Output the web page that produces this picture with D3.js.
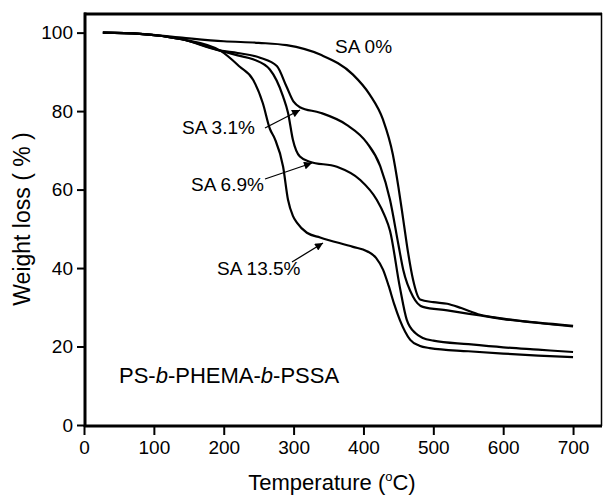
<!DOCTYPE html>
<html><head><meta charset="utf-8">
<script src="https://cdn.jsdelivr.net/npm/d3@7"></script>
<style>body{margin:0;background:#fff}svg{display:block}text{font-family:"Liberation Sans",Arial,sans-serif;fill:#000}</style>
</head><body><svg id="c" width="608" height="497"></svg>
<script>
const xTicks=[0,100,200,300,400,500,600,700];
const yTicks=[0,20,40,60,80,100];
const sa0=[[27,100],[80,99.7],[140,98.7],[200,97.8],[250,97.4],[290,96.8],[338,94.4],[385,89.3],[409,84.2],[428,77.8],[442,69],[450,60.7],[457,52.3],[464,43.8],[471,37],[481,32],[500,31.3],[520,30.9],[540,29.8],[567,28.1],[600,27.1],[650,26.1],[700,25.3]];
const sa31=[[27,100],[80,99.7],[140,98.3],[195,95.4],[220,94.8],[252,93.6],[276,91.5],[290,86.2],[300,82.4],[309,81],[338,79.6],[376,76.5],[405,71.9],[424,66],[438,57.4],[450,46],[457,39.5],[471,32.7],[485,30.1],[520,29.2],[567,27.9],[600,27],[650,26],[700,25.1]];
const sa69=[[27,100],[80,99.7],[140,98.3],[195,95.4],[220,94.2],[242,93.2],[266,90.6],[285,83.7],[292,79.6],[299,72.7],[309,68.4],[323,67.1],[362,65.8],[395,62.5],[419,57.4],[430,53.5],[438,49.5],[452,35.2],[462,26.8],[475,23.3],[485,22.2],[500,21.5],[550,20.6],[600,19.8],[650,19.2],[700,18.6]];
const sa135=[[27,100],[80,99.7],[140,98.3],[195,95.4],[223,91.3],[242,88],[256,82],[266,75.5],[273,73],[285,65.8],[292,57.4],[299,53.3],[305,51.5],[319,49],[338,47.8],[385,45.4],[405,44.3],[418,42.6],[428,39.6],[436,35.5],[444,30.8],[452,26.8],[467,21.7],[480,20.2],[495,19.6],[550,18.8],[600,18.2],[650,17.7],[700,17.3]];
const seriesNames=["SA 0%","SA 3.1%","SA 6.9%","SA 13.5%"];

const svg=d3.select("#c");
const x=d3.scaleLinear().domain([0,740]).range([84,601]);
const y=d3.scaleLinear().domain([0,105]).range([425,13]);

const line=d3.line().x(d=>x(d[0])).y(d=>y(d[1])).curve(d3.curveMonotoneX);
[sa0,sa31,sa69,sa135].forEach(s=>{
  svg.append("path").datum(s).attr("d",line).attr("fill","none").attr("stroke","#000").attr("stroke-width",2.2);
});

// frame
svg.append("line").attr("x1",84).attr("x2",602).attr("y1",14).attr("y2",14).attr("stroke","#000").attr("stroke-width",3);
svg.append("line").attr("x1",601.5).attr("x2",601.5).attr("y1",13).attr("y2",426).attr("stroke","#000").attr("stroke-width",1.5);
svg.append("line").attr("x1",85).attr("x2",85).attr("y1",12.5).attr("y2",427).attr("stroke","#000").attr("stroke-width",3);
svg.append("line").attr("x1",84).attr("x2",602).attr("y1",426).attr("y2",426).attr("stroke","#000").attr("stroke-width",3);

const ax=svg.append("g").attr("transform","translate(0,426)").call(d3.axisBottom(x).tickValues(xTicks).tickSize(9).tickPadding(6));
const ay=svg.append("g").attr("transform","translate(85,0)").call(d3.axisLeft(y).tickValues(yTicks).tickSize(8).tickPadding(4));
[ax,ay].forEach(a=>{a.select(".domain").remove();a.selectAll(".tick line").attr("stroke","#000").attr("stroke-width",2);a.selectAll(".tick text").attr("font-size",19).attr("font-family","'Liberation Sans',Arial,sans-serif").attr("fill","#000");});

// titles
const xt=svg.append("text").attr("x",332).attr("y",490).attr("text-anchor","middle").attr("font-size",22);
xt.append("tspan").text("Temperature (");
xt.append("tspan").text("o").attr("font-size",13).attr("dy",-9);
xt.append("tspan").text("C)").attr("dy",9);
svg.append("text").attr("transform","translate(30,219) rotate(-90)").attr("text-anchor","middle").attr("font-size",23).text("Weight loss ( % )");

// labels
const labels=[{t:seriesNames[0],x:335,y:53},{t:seriesNames[1],x:182,y:134},{t:seriesNames[2],x:191,y:191},{t:seriesNames[3],x:217,y:275}];
labels.forEach(l=>svg.append("text").attr("x",l.x).attr("y",l.y).attr("font-size",19).text(l.t));
const pl=svg.append("text").attr("x",119).attr("y",383).attr("font-size",22);
pl.append("tspan").text("PS-");pl.append("tspan").text("b").attr("font-style","italic");
pl.append("tspan").text("-PHEMA-");pl.append("tspan").text("b").attr("font-style","italic");
pl.append("tspan").text("-PSSA");

// arrows
svg.append("defs").append("marker").attr("id","ah").attr("viewBox","0 0 10 10").attr("refX",10).attr("refY",5)
  .attr("markerWidth",10).attr("markerHeight",8).attr("markerUnits","userSpaceOnUse").attr("orient","auto")
  .append("path").attr("d","M0,0L10,5L0,10Z").attr("fill","#000");
const arrows=[[265,128,300,110],[265,179,312,163],[292,262,323,243]];
arrows.forEach(a=>svg.append("line").attr("x1",a[0]).attr("y1",a[1]).attr("x2",a[2]).attr("y2",a[3]).attr("stroke","#000").attr("stroke-width",1.3).attr("marker-end","url(#ah)"));
</script></body></html>
